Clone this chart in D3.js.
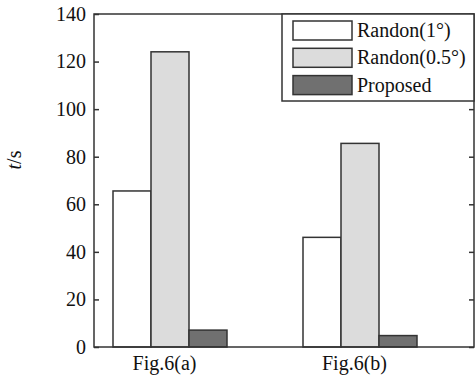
<!DOCTYPE html>
<html>
<head>
<meta charset="utf-8">
<script src="https://cdn.jsdelivr.net/npm/d3@7"></script>
<style>
  body { margin: 0; background: #fff; }
</style>
</head>
<body>
<script>
var groups = ["Fig.6(a)", "Fig.6(b)"];
var series = ["Randon(1°)", "Randon(0.5°)", "Proposed"];
var randon1 = [65.6, 46.1];
var randon05 = [124.1, 85.6];
var proposed = [7.1, 4.8];
var yTicks = [0, 20, 40, 60, 80, 100, 120, 140];

var colors = ["#ffffff", "#dcdcdc", "#707070"];
var values = [randon1, randon05, proposed];
var serif = "'Liberation Serif', 'Times New Roman', serif";

var width = 475, height = 381;
var margin = {top: 14, right: 1, bottom: 34, left: 94};

var svg = d3.select("body").append("svg")
    .attr("width", width)
    .attr("height", height)
    .attr("font-family", serif);

var x = d3.scaleLinear()
    .domain([0.6, 2.6])
    .range([margin.left, width - margin.right]);

var y = d3.scaleLinear()
    .domain([0, 140])
    .range([height - margin.bottom, margin.top]);

var barW = 0.2;

// bars
series.forEach(function(s, i) {
  svg.append("g").selectAll("rect")
      .data(values[i])
    .enter().append("rect")
      .attr("x", function(d, j) { return x(j + 1 + (i - 1.5) * barW); })
      .attr("width", x(barW) - x(0))
      .attr("y", function(d) { return y(d); })
      .attr("height", function(d) { return y(0) - y(d); })
      .attr("fill", colors[i])
      .attr("stroke", "#333")
      .attr("stroke-width", 1.5);
});

function styleText(g) {
  g.attr("font-family", serif).attr("font-size", 20);
  g.selectAll("text").attr("fill", "#111");
}

// left axis
svg.append("g")
    .attr("transform", "translate(" + margin.left + ",0)")
    .call(d3.axisLeft(y).tickValues(yTicks).tickSizeInner(-5).tickSizeOuter(0).tickPadding(8))
    .call(styleText)
    .call(function(g) {
      g.select(".domain").remove();
      g.selectAll("line").attr("stroke", "#333").attr("stroke-width", 1.5);
    });

// right axis ticks
svg.append("g")
    .attr("transform", "translate(" + (width - margin.right) + ",0)")
    .call(d3.axisRight(y).tickValues(yTicks).tickSizeInner(-5).tickSizeOuter(0).tickFormat(""))
    .call(function(g) {
      g.select(".domain").remove();
      g.selectAll("line").attr("stroke", "#333").attr("stroke-width", 1.5);
    });

// bottom axis labels
svg.append("g")
    .attr("transform", "translate(0," + y(0) + ")")
    .call(d3.axisBottom(x).tickValues([1, 2]).tickSize(0).tickPadding(9)
      .tickFormat(function(d) { return groups[d - 1]; }))
    .call(styleText)
    .call(function(g) {
      g.select(".domain").remove();
      g.selectAll("text").attr("dx", -6);
    });

// frame
svg.append("rect")
    .attr("x", margin.left)
    .attr("y", margin.top)
    .attr("width", width - margin.right - margin.left)
    .attr("height", y(0) - margin.top)
    .attr("fill", "none")
    .attr("stroke", "#333")
    .attr("stroke-width", 1.5);

// y label
svg.append("text")
    .attr("transform", "translate(21,160) rotate(-90)")
    .attr("text-anchor", "middle")
    .attr("font-size", 20)
    .attr("fill", "#111")
    .html('<tspan font-style="italic">t</tspan>/s');

// legend
var legend = svg.append("g");
legend.append("rect")
    .attr("x", 282)
    .attr("y", margin.top)
    .attr("width", width - margin.right - 282)
    .attr("height", 87)
    .attr("fill", "#fff")
    .attr("stroke", "#333")
    .attr("stroke-width", 1.5);

var row = legend.selectAll(".row")
    .data(series)
  .enter().append("g")
    .attr("class", "row")
    .attr("transform", function(d, i) { return "translate(293," + (21 + i * 27.3) + ")"; });

row.append("rect")
    .attr("width", 59)
    .attr("height", 19)
    .attr("fill", function(d, i) { return colors[i]; })
    .attr("stroke", "#333")
    .attr("stroke-width", 1.5);

row.append("text")
    .attr("x", 64)
    .attr("y", 16)
    .attr("font-size", 20)
    .attr("fill", "#111")
    .text(function(d) { return d; });
</script>
</body>
</html>
